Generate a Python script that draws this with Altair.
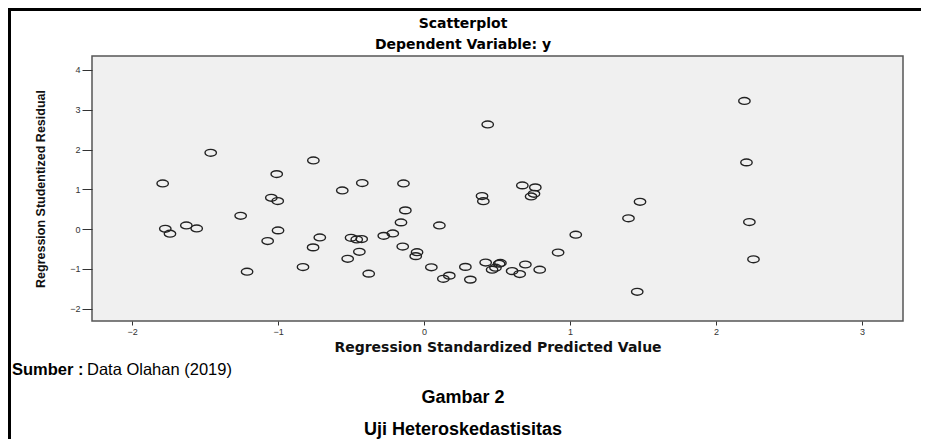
import altair as alt
import pandas as pd

# ---- data ----
pred = [-1.461, -0.758, -1.790, -1.009, -0.423, -0.560, -1.046, -1.002, -1.256, -1.772,
        -1.740, -1.628, -1.557, -1.000, -1.071, -0.714, -0.760, -0.500, -0.461, -0.427,
        -0.443, -0.523, -0.379, -1.212, -0.829, -0.276, -0.214, 0.436, -0.141, -0.128,
        -0.158, 0.105, -0.146, -0.048, -0.057, 0.050, 0.283, 0.173, 0.132, 0.317,
        0.422, 0.523, 0.514, 0.489, 0.466, 0.603, 0.655, 0.694, 0.792, 0.918,
        1.039, 0.397, 0.406, 0.673, 0.762, 0.753, 0.733, 1.479, 1.400, 1.460,
        2.194, 2.208, 2.228, 2.256]
resid = [1.917, 1.726, 1.148, 1.382, 1.156, 0.970, 0.787, 0.704, 0.335, 0.008,
         -0.117, 0.092, 0.017, -0.033, -0.300, -0.210, -0.460, -0.220, -0.260, -0.250,
         -0.570, -0.746, -1.120, -1.070, -0.955, -0.170, -0.110, 2.630, 1.148, 0.470,
         0.168, 0.092, -0.440, -0.580, -0.680, -0.960, -0.950, -1.170, -1.250, -1.270,
         -0.840, -0.850, -0.870, -0.970, -1.020, -1.055, -1.130, -0.890, -1.020, -0.590,
         -0.140, 0.830, 0.700, 1.098, 1.048, 0.887, 0.820, 0.686, 0.270, -1.575,
         3.220, 1.676, 0.176, -0.760]

x_ticks = [-2, -1, 0, 1, 2, 3]
y_ticks = [-2, -1, 0, 1, 2, 3, 4]
x_domain = [-2.274, 3.28]
y_domain = [-2.31, 4.35]

chart_title = "Scatterplot"
chart_subtitle = "Dependent Variable: y"
x_title = "Regression Standardized Predicted Value"
y_title = "Regression Studentized Residual"
source_bold = "Sumber :"
source_text = "Data Olahan (2019)"
caption_1 = "Gambar 2"
caption_2 = "Uji Heteroskedastisitas"

SANS = "Liberation Sans, Arial, sans-serif"
WIDE = "DejaVu Sans, Verdana, sans-serif"

W, H = 811, 265
ellipse = "M -1 0 A 1 0.6 0 1 1 1 0 A 1 0.6 0 1 1 -1 0 Z"

df = pd.DataFrame({"pred": pred, "resid": resid})

points = alt.Chart(df).mark_point(
    shape=ellipse, size=130, filled=False, color="#222222", strokeWidth=1.4, opacity=1
).encode(
    x=alt.X("pred:Q",
            scale=alt.Scale(domain=x_domain, nice=False, zero=False),
            axis=alt.Axis(values=x_ticks, title=x_title, tickSize=4, labelPadding=2,
                          titleFont=WIDE, titleFontSize=14, titleFontWeight="bold",
                          titleColor="#111", titleY=19, titleBaseline="top")),
    y=alt.Y("resid:Q",
            scale=alt.Scale(domain=y_domain, nice=False, zero=False),
            axis=alt.Axis(values=y_ticks, title=y_title, tickSize=10, labelPadding=2,
                          titleFont=SANS, titleFontSize=12.5, titleFontWeight="bold",
                          titleColor="#111", titleX=-52, titleY=H / 2,
                          titleBaseline="middle", titleAlign="center", titleAngle=270)),
)

one = alt.Data(values=[{"k": 1}])


def label(txt, x, y, font, size, weight="bold", align="center"):
    return alt.Chart(one).mark_text(
        text=txt, font=font, fontSize=size, fontWeight=weight, align=align,
        baseline="middle", color="#000000"
    ).encode(x=alt.value(x), y=alt.value(y))


texts = [
    label(chart_title, 371, -32, WIDE, 14),
    label(chart_subtitle, 371, -11, WIDE, 14),
    label(source_bold, -80, 314, SANS, 16.5, align="left"),
    label(source_text, -5, 314, SANS, 16.5, weight="normal", align="left"),
    label(caption_1, 371, 342, SANS, 18),
    label(caption_2, 371, 374, SANS, 18),
]

frame_left = alt.Chart(one).mark_rule(color="#000000", strokeWidth=3).encode(
    x=alt.value(-82.5), y=alt.value(-48), y2=alt.value(383))
frame_top = alt.Chart(one).mark_rule(color="#000000", strokeWidth=3).encode(
    x=alt.value(-84), x2=alt.value(829), y=alt.value(-46.5))

chart = alt.layer(points, *texts, frame_left, frame_top).properties(
    width=W, height=H,
    autosize=alt.AutoSizeParams(type="none"),
    padding={"left": 84, "top": 48, "right": 18, "bottom": 118},
    background="#ffffff",
).configure_view(
    fill="#f0f0f0", stroke="#555555", strokeWidth=1.5
).configure_axis(
    grid=False, domain=False, labelFont=SANS, labelFontSize=9, labelColor="#333333",
    tickColor="#333333", tickWidth=1
)

chart.save("out.html", embed_options={"renderer": "svg", "actions": False})
